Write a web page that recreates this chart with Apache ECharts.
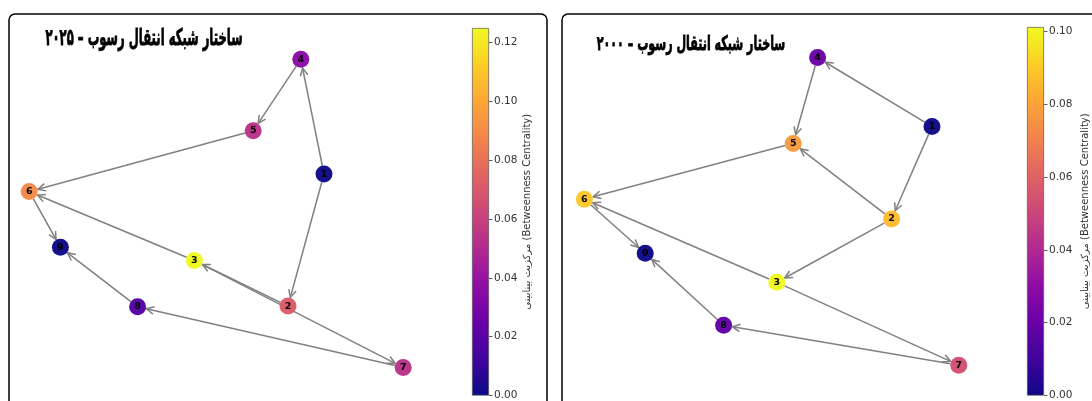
<!DOCTYPE html>
<html>
<head>
<meta charset="utf-8">
<script src="https://cdn.jsdelivr.net/npm/echarts@6/dist/echarts.min.js"></script>
<style>
  html, body { margin: 0; padding: 0; background: #ffffff; }
  #chart { width: 1092px; height: 401px; }
</style>
</head>
<body>
<div id="chart"></div>
<script>
// ---- data -------------------------------------------------------------
const nodeNames = ['1', '2', '3', '4', '5', '6', '7', '8', '9'];

// 2025 network: node layout (0–100 box), betweenness, directed edges
const layout2025X = [76.0, 67.0, 43.6, 70.2, 58.3, 2.3, 95.8, 29.4, 10.1];
const layout2025Y = [62.4, 22.4, 36.2, 97.2, 75.5, 57.1, 3.8, 22.2, 40.2];
const betweenness2025 = [0.0, 0.0714, 0.125, 0.0357, 0.0536, 0.0893, 0.0536, 0.0179, 0.0];
const edges2025 = [[1, 4], [4, 5], [5, 6], [1, 2], [2, 3], [3, 6], [3, 7], [7, 8], [8, 9], [6, 9]];

// 2000 network
const layout2000X = [90.0, 79.9, 51.2, 61.4, 55.3, 3.1, 96.7, 37.9, 18.3];
const layout2000Y = [76.8, 48.8, 29.6, 97.7, 71.7, 54.8, 4.5, 16.6, 38.4];
const betweenness2000 = [0.0, 0.0863, 0.1012, 0.0208, 0.0774, 0.0893, 0.0536, 0.0179, 0.0];
const edges2000 = [[1, 4], [4, 5], [1, 2], [2, 5], [2, 3], [3, 6], [3, 7], [7, 8], [8, 9], [6, 9], [5, 6]];

// colour bar ticks
const colorbarTicks2025 = [0.00, 0.02, 0.04, 0.06, 0.08, 0.10, 0.12];
const colorbarTicks2000 = [0.00, 0.02, 0.04, 0.06, 0.08, 0.10];

const title2025 = 'ساختار شبکه انتقال رسوب – ۲۰۲۵';
const title2000 = 'ساختار شبکه انتقال رسوب – ۲۰۰۰';
const colorbarLabel = 'مرکزیت بینابینی (Betweenness Centrality)';

// ---- helpers ----------------------------------------------------------
const plasma = ['#0d0887', '#41049d', '#6a00a8', '#8f0da4', '#b12a90', '#cc4778',
                '#e16462', '#f2844b', '#fca636', '#fcce25', '#f0f921'];

const NODE_SIZE = 17;
const EDGE_COLOR = '#808080';

function nodeData(xs, ys, vals) {
  return nodeNames.map((n, i) => ({ name: n, value: [xs[i], ys[i], vals[i]] }));
}
function edgeData(xs, ys, edges) {
  return edges.map(([s, t]) => [xs[s - 1], ys[s - 1], xs[t - 1], ys[t - 1]]);
}

// straight edge clipped at both node rims, with an open "->" head at the target
function renderEdge(params, api) {
  const a = api.coord([api.value(0), api.value(1)]);
  const b = api.coord([api.value(2), api.value(3)]);
  const dx = b[0] - a[0], dy = b[1] - a[1];
  const len = Math.hypot(dx, dy) || 1;
  const ux = dx / len, uy = dy / len;
  const r = NODE_SIZE / 2;
  const s = [a[0] + ux * r, a[1] + uy * r];
  const e = [b[0] - ux * (r + 0.5), b[1] - uy * (r + 0.5)];
  const L = 8.5, ang = 0.46, c = Math.cos(ang), sn = Math.sin(ang);
  const bx = -ux, by = -uy;
  const w1 = [e[0] + L * (bx * c - by * sn), e[1] + L * (bx * sn + by * c)];
  const w2 = [e[0] + L * (bx * c + by * sn), e[1] + L * (-bx * sn + by * c)];
  return {
    type: 'group',
    children: [
      { type: 'line', shape: { x1: s[0], y1: s[1], x2: e[0], y2: e[1] },
        style: { stroke: EDGE_COLOR, lineWidth: 1.5 } },
      { type: 'polyline', shape: { points: [w1, e, w2] },
        style: { stroke: EDGE_COLOR, lineWidth: 1.5, fill: null } }
    ]
  };
}

function colorbarAxis(gridIndex, vmax, ticks, gap) {
  return {
    gridIndex: gridIndex, type: 'value', min: 0, max: vmax, position: 'right',
    axisLine: { show: false }, splitLine: { show: false },
    axisTick: { show: true, inside: false, length: 3.5, customValues: ticks,
                lineStyle: { color: '#333', width: 0.8 } },
    axisLabel: { show: true, margin: 5, fontSize: 10.5, color: '#333', customValues: ticks,
                 fontFamily: 'DejaVu Sans', formatter: v => v.toFixed(2) },
    name: colorbarLabel, nameLocation: 'middle', nameRotate: 90, nameGap: gap,
    nameTextStyle: { fontSize: 10, color: '#333', fontFamily: 'DejaVu Sans' }
  };
}

function colorbarSeries(axisIndex, vmax) {
  return {
    type: 'bar', xAxisIndex: axisIndex, yAxisIndex: axisIndex, data: [vmax],
    barWidth: '100%', silent: true,
    itemStyle: {
      borderColor: '#555', borderWidth: 0.7,
      color: { type: 'linear', x: 0, y: 1, x2: 0, y2: 0,
               colorStops: plasma.map((col, i) => ({ offset: i / (plasma.length - 1), color: col })) }
    }
  };
}

function nodeSeries(axisIndex, xs, ys, vals) {
  return {
    type: 'scatter', xAxisIndex: axisIndex, yAxisIndex: axisIndex, z: 4,
    symbolSize: NODE_SIZE, data: nodeData(xs, ys, vals), silent: true,
    itemStyle: { opacity: 0.97 },
    label: { show: true, position: 'inside', formatter: '{b}', color: '#000',
             fontSize: 9.5, fontWeight: 'bold', fontFamily: 'DejaVu Sans' }
  };
}

function edgeSeries(axisIndex, xs, ys, edges) {
  return {
    type: 'custom', xAxisIndex: axisIndex, yAxisIndex: axisIndex, z: 2, silent: true,
    data: edgeData(xs, ys, edges), encode: { x: [0, 2], y: [1, 3] },
    renderItem: renderEdge
  };
}

const vmax2025 = Math.max(...betweenness2025);
const vmax2000 = Math.max(...betweenness2000);

const hidden = (gi) => ({ gridIndex: gi, type: 'value', min: 0, max: 100, show: false });
const hiddenCat = (gi) => ({ gridIndex: gi, type: 'category', data: ['cb'], show: false });

const titleStyle = (text, size) => ({
  text: text, fill: '#000', stroke: '#000', lineWidth: 0.8,
  fontSize: size, fontWeight: 'bold', fontFamily: 'DejaVu Sans',
  align: 'center', verticalAlign: 'middle'
});

const option = {
  animation: false,
  backgroundColor: '#ffffff',
  grid: [
    { left: 20, top: 50, width: 400, height: 330 },
    { left: 472, top: 28, width: 17, height: 372 },
    { left: 572, top: 50, width: 400, height: 330 },
    { left: 1027, top: 27, width: 17, height: 373 }
  ],
  xAxis: [hidden(0), hiddenCat(1), hidden(2), hiddenCat(3)],
  yAxis: [
    hidden(0),
    colorbarAxis(1, vmax2025, colorbarTicks2025, 33),
    hidden(2),
    colorbarAxis(3, vmax2000, colorbarTicks2000, 36)
  ],
  visualMap: [
    { type: 'continuous', show: false, min: 0, max: vmax2025, dimension: 2,
      seriesIndex: 1, inRange: { color: plasma } },
    { type: 'continuous', show: false, min: 0, max: vmax2000, dimension: 2,
      seriesIndex: 4, inRange: { color: plasma } }
  ],
  graphic: [
    { type: 'rect', shape: { x: 9, y: 14, width: 538, height: 440, r: 6 },
      style: { fill: null, stroke: '#000', lineWidth: 1.5 }, z: 0, silent: true },
    { type: 'rect', shape: { x: 562, y: 14, width: 560, height: 440, r: 6 },
      style: { fill: null, stroke: '#000', lineWidth: 1.5 }, z: 0, silent: true },
    { type: 'text', x: 144, y: 39, scaleX: 0.505, silent: true, style: titleStyle(title2025, 23) },
    { type: 'text', x: 691, y: 45, scaleX: 0.555, silent: true, style: titleStyle(title2000, 20) }
  ],
  series: [
    edgeSeries(0, layout2025X, layout2025Y, edges2025),
    nodeSeries(0, layout2025X, layout2025Y, betweenness2025),
    colorbarSeries(1, vmax2025),
    edgeSeries(2, layout2000X, layout2000Y, edges2000),
    nodeSeries(2, layout2000X, layout2000Y, betweenness2000),
    colorbarSeries(3, vmax2000)
  ]
};

const chart = echarts.init(document.getElementById('chart'), null, { renderer: 'canvas' });
chart.setOption(option);
</script>
</body>
</html>
